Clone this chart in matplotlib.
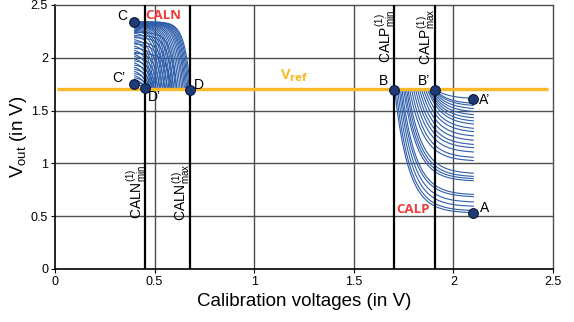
import numpy as np
import matplotlib
matplotlib.use("Agg")
import matplotlib.pyplot as plt

plt.rcParams["font.family"] = ["Liberation Sans", "DejaVu Sans"]
plt.rcParams["mathtext.fontset"] = "custom"
plt.rcParams["mathtext.rm"] = "Liberation Sans"
plt.rcParams["mathtext.it"] = "Liberation Sans:italic"

# Reference level and calibration window limits (V)
v_ref = 1.7
caln_min, caln_max = 0.452, 0.676
calp_min, calp_max = 1.703, 1.906

# CALN sweep: plateau level at the sweep start and the voltage where Vout reaches Vref
caln_start_x = 0.40
caln_level = [2.34, 2.34, 2.338, 2.335, 2.33, 2.33, 2.328, 2.325, 2.32, 2.318,
              2.315, 2.31, 2.305, 2.30, 2.295, 2.29, 2.28, 2.27, 2.26, 2.25,
              2.24, 2.23, 2.21, 2.20, 2.19, 2.17, 2.15, 2.14, 2.13, 2.11,
              2.09, 2.07, 2.05, 2.04, 2.03, 2.01, 1.99, 1.97, 1.95, 1.93,
              1.91, 1.89, 1.87, 1.85, 1.83, 1.81, 1.79, 1.77, 1.755]
caln_cross = [0.680, 0.674, 0.668, 0.662, 0.656, 0.650, 0.643, 0.636, 0.628, 0.620,
              0.612, 0.604, 0.596, 0.588, 0.580, 0.572, 0.564, 0.556, 0.548, 0.540,
              0.610, 0.532, 0.595, 0.524, 0.578, 0.516, 0.565, 0.508, 0.552, 0.500,
              0.540, 0.494, 0.528, 0.588, 0.490, 0.518, 0.486, 0.508, 0.480, 0.500,
              0.475, 0.490, 0.470, 0.482, 0.466, 0.475, 0.462, 0.468, 0.452]
caln_tau = 0.03

# CALP sweep: voltage where Vout leaves Vref and the settled level at the sweep end
calp_end_x = 2.10
calp_start = [1.705, 1.712, 1.720, 1.728, 1.735, 1.742, 1.750, 1.757, 1.765, 1.772,
              1.780, 1.790, 1.800, 1.810, 1.820, 1.830, 1.840, 1.850, 1.860, 1.870,
              1.875, 1.880, 1.885, 1.890, 1.895, 1.900, 1.905, 1.908]
calp_final = [0.53, 0.55, 0.59, 0.63, 0.68, 0.70, 0.83, 0.85, 0.87, 0.90,
              1.02, 1.05, 1.10, 1.14, 1.17, 1.21, 1.25, 1.29, 1.32, 1.36,
              1.39, 1.42, 1.45, 1.48, 1.51, 1.54, 1.56, 1.61]
calp_tau = 0.07

# Labelled operating points
pt_names = ["C", "C\u2019", "D\u2019", "D", "B", "B\u2019", "A\u2019", "A"]
pt_x = [0.397, 0.397, 0.452, 0.678, 1.703, 1.908, 2.097, 2.100]
pt_y = [2.342, 1.755, 1.714, 1.695, 1.695, 1.695, 1.613, 0.527]

ticks = [0, 0.5, 1, 1.5, 2, 2.5]
tick_labels = ["0", "0.5", "1", "1.5", "2", "2.5"]

curve_color = "#2E5EAA"
grid_color = "#4d4d4d"
ref_color = "#FBB829"
marker_color = "#1F3A78"

fig = plt.figure(figsize=(5.74, 3.22), dpi=100)
ax = fig.add_axes([0.0958, 0.1646, 0.8676, 0.8199])
ax.set_xlim(0, 2.5)
ax.set_ylim(0, 2.5)

for v in [0.5, 1.0, 1.5, 2.0]:
    ax.axvline(v, color=grid_color, lw=1.0, zorder=1)
    ax.axhline(v, color=grid_color, lw=1.0, zorder=1)

# CALN transfer curves
for y0, xc in zip(caln_level, caln_cross):
    x = np.linspace(caln_start_x, xc, 120)
    shape = (1 - np.exp(-(xc - x) / caln_tau)) / (1 - np.exp(-(xc - caln_start_x) / caln_tau))
    y = v_ref + (y0 - v_ref) * shape
    ax.plot(x, y, color=curve_color, lw=0.8, zorder=2)

# CALP transfer curves
for xs, yf in zip(calp_start, calp_final):
    x = np.linspace(xs, calp_end_x, 150)
    y = yf + (v_ref - yf) * np.exp(-(x - xs) / calp_tau)
    ax.plot(x, y, color=curve_color, lw=0.8, zorder=2)

# Vref line
ax.plot([0.012, 2.475], [v_ref, v_ref], color=ref_color, lw=2.4, zorder=3,
        solid_capstyle="butt")

# Calibration window limits
for v in [caln_min, caln_max, calp_min, calp_max]:
    ax.axvline(v, color="black", lw=1.6, zorder=4)

ax.plot(pt_x, pt_y, "o", ms=7, mfc=marker_color, mec="#0d1a3a", mew=0.8, zorder=5)

label_offsets = {
    "C": (-0.085, 0.05),
    "C\u2019": (-0.11, 0.055),
    "D\u2019": (0.012, -0.09),
    "D": (0.02, 0.045),
    "B": (-0.075, 0.085),
    "B\u2019": (-0.085, 0.085),
    "A\u2019": (0.03, -0.01),
    "A": (0.035, 0.05),
}
for name, x, y in zip(pt_names, pt_x, pt_y):
    dx, dy = label_offsets[name]
    ax.text(x + dx, y + dy, name, fontsize=10, ha="left", va="center", zorder=6)

ax.text(0.455, 2.40, "CALN", color="#F03B3B", fontsize=9.5, fontweight="bold",
        family=["Open Sans", "DejaVu Sans"], ha="left", va="center", zorder=6)
ax.text(1.715, 0.56, "CALP", color="#F03B3B", fontsize=9.5, fontweight="bold",
        family=["Open Sans", "DejaVu Sans"], ha="left", va="center", zorder=6)
ax.text(1.13, 1.83, r"V$_{\mathbf{ref}}$", color=ref_color, fontsize=10.5,
        fontweight="bold", family=["Open Sans", "DejaVu Sans"],
        ha="left", va="center", zorder=6)

for xline, yc, name in [(caln_min, 0.73, "CALN"), (caln_max, 0.73, "CALN"),
                        (calp_min, 2.20, "CALP"), (calp_max, 2.20, "CALP")]:
    sub = "min" if xline in (caln_min, calp_min) else "max"
    ax.text(xline - 0.045, yc, name + r"$^{(1)}_{\mathrm{" + sub + "}}$", rotation=90,
            fontsize=10, ha="center", va="center", zorder=6)

ax.set_xticks(ticks)
ax.set_xticklabels(tick_labels)
ax.set_yticks(ticks)
ax.set_yticklabels(tick_labels)
ax.tick_params(labelsize=9, length=3, width=0.8, pad=2)

for side in ["left", "bottom"]:
    ax.spines[side].set_color("black")
    ax.spines[side].set_linewidth(1.2)
for side in ["top", "right"]:
    ax.spines[side].set_color(grid_color)
    ax.spines[side].set_linewidth(1.0)

ax.set_xlabel("Calibration voltages (in V)", fontsize=13.5, labelpad=4)
ax.set_ylabel(r"V$_{\mathrm{out}}$ (in V)", fontsize=13.5, labelpad=1)

fig.savefig("out.png", dpi=100)
